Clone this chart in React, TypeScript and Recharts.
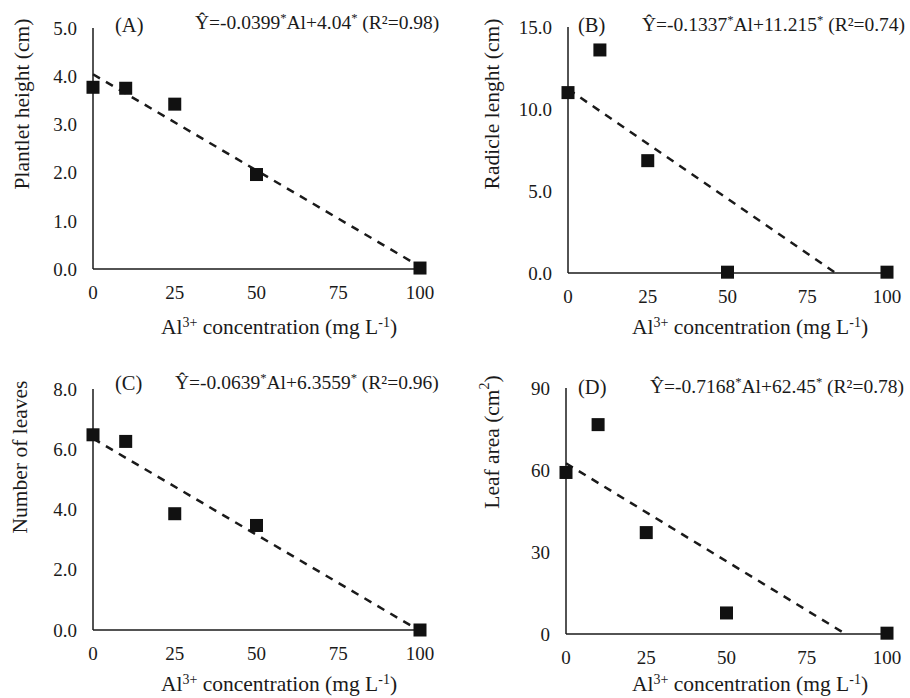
import { ScatterChart, Scatter, XAxis, YAxis } from 'recharts';

// Al3+ concentration (mg L-1)
const concentration = [0, 10, 25, 50, 100];
const xTicks = [0, 25, 50, 75, 100];

const plantletHeight = [3.77, 3.75, 3.42, 1.96, 0.02];
const radicleLength = [11.0, 13.6, 6.85, 0.05, 0.05];
const leafNumber = [6.48, 6.26, 3.86, 3.47, 0.0];
const leafArea = [59.1, 76.6, 37.1, 7.7, 0.3];

// fitted line end points [x, y]
const trendA = [[0, 4.04], [100, 0.05]];
const trendB = [[0, 11.215], [83.9, 0]];
const trendC = [[0, 6.3559], [99.5, 0]];
const trendD = [[0, 62.45], [87.1, 0]];

const ticksA = [0, 1, 2, 3, 4, 5];
const ticksB = [0, 5, 10, 15];
const ticksC = [0, 2, 4, 6, 8];
const ticksD = [0, 30, 60, 90];

const FONT = "'Liberation Serif', 'DejaVu Serif', serif";
const INK = '#1a1a1a';

const toPoints = (ys: number[]) => concentration.map((x, i) => ({ x, y: ys[i] }));
const toLine = (pts: number[][]) => pts.map(([x, y]) => ({ x, y }));

const Square = (p: any) => (
  <rect x={p.cx - 6.5} y={p.cy - 6.5} width={13} height={13} fill="#111" />
);

const Sup = ({ children }: { children: string }) => (
  <tspan baselineShift="super" fontSize="65%">{children}</tspan>
);

interface PanelProps {
  left: number;
  top: number;
  width: number;
  height: number;
  margin: { top: number; right: number; bottom: number; left: number };
  values: number[];
  trend: number[][];
  yTicks: number[];
  decimals: number;
  yLabel: React.ReactNode;
  yLabelPos: [number, number];
  tag: string;
  tagPos: [number, number];
  eq: [string, string, string];
  eqPos: [number, number];
  xLabelPos: [number, number];
}

function Panel(props: PanelProps) {
  const { margin, yTicks, decimals } = props;
  const tickStyle = { fontSize: 19, fill: INK, style: { fontFamily: FONT } };
  const txt = { fontFamily: FONT };
  return (
    <div style={{ position: 'absolute', left: props.left, top: props.top }}>
      <ScatterChart width={props.width} height={props.height} margin={margin} style={txt}>
        <XAxis
          type="number"
          dataKey="x"
          domain={[0, 100]}
          ticks={xTicks}
          height={40}
          tickLine={false}
          tickMargin={11}
          tick={tickStyle}
          axisLine={{ stroke: INK, strokeWidth: 1.5 }}
        />
        <YAxis
          type="number"
          dataKey="y"
          domain={[yTicks[0], yTicks[yTicks.length - 1]]}
          ticks={yTicks}
          width={60}
          tickLine={false}
          tickMargin={10}
          tick={tickStyle}
          tickFormatter={(v: number) => v.toFixed(decimals)}
          axisLine={{ stroke: INK, strokeWidth: 1.5 }}
        />
        <Scatter
          data={toLine(props.trend)}
          line={{ stroke: INK, strokeWidth: 2.5, strokeDasharray: '8 7' }}
          shape={() => null}
          isAnimationActive={false}
        />
        <Scatter data={toPoints(props.values)} shape={Square} isAnimationActive={false} />
        <text
          x={props.yLabelPos[0]}
          y={props.yLabelPos[1]}
          transform={`rotate(-90 ${props.yLabelPos[0]} ${props.yLabelPos[1]})`}
          textAnchor="middle"
          dominantBaseline="central"
          style={txt}
          fontSize={21.5}
          fill={INK}
        >
          {props.yLabel}
        </text>
        <text x={props.tagPos[0]} y={props.tagPos[1]} style={txt} fontSize={20.5} fill={INK}>
          {props.tag}
        </text>
        <text x={props.eqPos[0]} y={props.eqPos[1]} style={txt} fontSize={19.5} fill={INK}>
          {props.eq[0]}
          <Sup>*</Sup>
          {props.eq[1]}
          <Sup>*</Sup>
          {props.eq[2]}
        </text>
        <text
          x={props.xLabelPos[0]}
          y={props.xLabelPos[1]}
          textAnchor="middle"
          style={txt}
          fontSize={21.5}
          fill={INK}
        >
          Al<Sup>3+</Sup> concentration (mg L<Sup>-1</Sup>)
        </text>
      </ScatterChart>
    </div>
  );
}

export default function App() {
  return (
    <div style={{ position: 'absolute', left: 0, top: 0, width: 910, height: 698, background: '#fff', fontFamily: FONT }}>
      <Panel
        left={0} top={0} width={455} height={340}
        margin={{ top: 28, right: 35, bottom: 31, left: 33 }}
        values={plantletHeight} trend={trendA} yTicks={ticksA} decimals={1}
        yLabel="Plantlet height (cm)" yLabelPos={[22, 104]}
        tag="(A)" tagPos={[115, 32]}
        eq={['Ŷ=-0.0399', 'Al+4.04', ' (R²=0.98)']} eqPos={[195, 29]}
        xLabelPos={[279, 334]}
      />
      <Panel
        left={455} top={0} width={455} height={340}
        margin={{ top: 27, right: 23, bottom: 27, left: 53 }}
        values={radicleLength} trend={trendB} yTicks={ticksB} decimals={1}
        yLabel="Radicle lenght (cm)" yLabelPos={[37, 104]}
        tag="(B)" tagPos={[123, 32]}
        eq={['Ŷ=-0.1337', 'Al+11.215', ' (R²=0.74)']} eqPos={[187, 31]}
        xLabelPos={[295, 334]}
      />
      <Panel
        left={0} top={340} width={455} height={358}
        margin={{ top: 49, right: 35, bottom: 28, left: 33 }}
        values={leafNumber} trend={trendC} yTicks={ticksC} decimals={1}
        yLabel="Number of leaves" yLabelPos={[20, 117]}
        tag="(C)" tagPos={[115, 50]}
        eq={['Ŷ=-0.0639', 'Al+6.3559', ' (R²=0.96)']} eqPos={[175, 49]}
        xLabelPos={[279, 351]}
      />
      <Panel
        left={455} top={340} width={455} height={358}
        margin={{ top: 48, right: 23, bottom: 24, left: 51 }}
        values={leafArea} trend={trendD} yTicks={ticksD} decimals={0}
        yLabel={<>Leaf area (cm<Sup>2</Sup>)</>} yLabelPos={[37, 102]}
        tag="(D)" tagPos={[123, 54]}
        eq={['Ŷ=-0.7168', 'Al+62.45', ' (R²=0.78)']} eqPos={[195, 53]}
        xLabelPos={[295, 351]}
      />
    </div>
  );
}
